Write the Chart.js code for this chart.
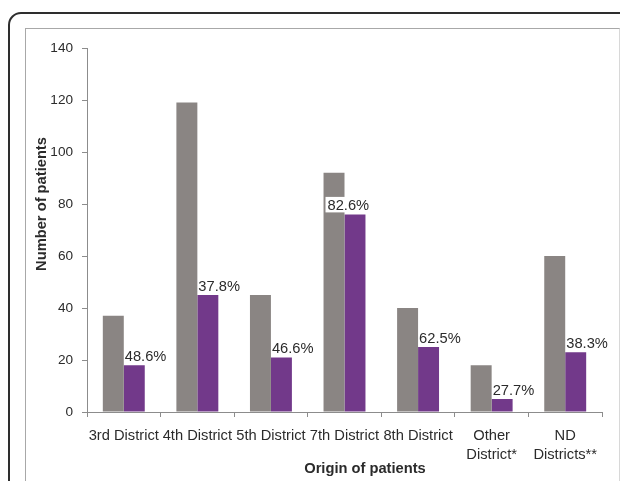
<!DOCTYPE html>
<html>
<head>
<meta charset="utf-8">
<script src="https://cdn.jsdelivr.net/npm/chart.js@4/dist/chart.umd.min.js"></script>
<style>
  html, body { margin: 0; padding: 0; background: #ffffff; overflow: hidden; width: 620px; height: 481px; }
  #outer { position: absolute; left: 7.5px; top: 12px; width: 700px; height: 600px; border: 2.5px solid #2e2e2e; border-radius: 13px; box-sizing: border-box; }
  #inner { position: absolute; left: 24.5px; top: 27.5px; width: 595px; height: 600px; border: 1.5px solid #a8a8a8; border-right-color: #d8d8d8; box-sizing: border-box; }
  #c { position: absolute; left: 0; top: 0; }
</style>
</head>
<body>
<div id="outer"></div>
<div id="inner"></div>
<canvas id="c" width="620" height="481"></canvas>
<script>
const categories = ["3rd District", "4th District", "5th District", "7th District", "8th District", ["Other", "District*"], ["ND", "Districts**"]];
const totalPatients = [37, 119, 45, 92, 40, 18, 60];
const subsetPatients = [18, 45, 21, 76, 25, 5, 23];
const subsetPercent = [48.6, 37.8, 46.6, 82.6, 62.5, 27.7, 38.3];
const yTicks = [0, 20, 40, 60, 80, 100, 120, 140];
const xTitle = "Origin of patients";
const yTitle = "Number of patients";

const FONT = "'Liberation Sans', Arial, sans-serif";
const FS = 14.7;
const TEXT = "#2b2b2b";

const labelPlugin = {
  id: 'pctLabels',
  afterDatasetsDraw(chart) {
    const ctx = chart.ctx;
    const meta = chart.getDatasetMeta(1);
    ctx.save();
    ctx.font = FS + "px " + FONT;
    ctx.textAlign = 'left';
    ctx.textBaseline = 'alphabetic';
    const shift = {3: -18};
    meta.data.forEach((el, i) => {
      const txt = subsetPercent[i].toFixed(1) + "%";
      const left = el.x - el.width / 2 + 1 + (shift[i] || 0);
      const base = el.y - 4.5;
      if (shift[i]) {
        const w = ctx.measureText(txt).width;
        ctx.fillStyle = '#ffffff';
        ctx.fillRect(left - 2, base - 13, w + 4, 15.5);
      }
      ctx.fillStyle = TEXT;
      ctx.fillText(txt, left, base);
    });
    ctx.restore();
  }
};

const titlePlugin = {
  id: 'axisTitles',
  afterDraw(chart) {
    const ctx = chart.ctx;
    ctx.save();
    ctx.font = "bold " + FS + "px " + FONT;
    ctx.fillStyle = TEXT;
    ctx.textAlign = 'center';
    ctx.textBaseline = 'middle';
    ctx.fillText(xTitle, 365, 469);
    ctx.translate(42, 204);
    ctx.rotate(-Math.PI / 2);
    ctx.fillText(yTitle, 0, 0);
    ctx.restore();
  }
};

new Chart(document.getElementById('c'), {
  type: 'bar',
  data: {
    labels: categories,
    datasets: [
      { data: totalPatients, backgroundColor: '#8a8583', borderWidth: 0, categoryPercentage: 0.57, barPercentage: 1 },
      { data: subsetPatients, backgroundColor: '#72398a', borderWidth: 0, categoryPercentage: 0.57, barPercentage: 1 }
    ]
  },
  options: {
    responsive: false,
    animation: false,
    devicePixelRatio: 1,
    layout: { padding: { left: 0, top: 48, right: 18, bottom: 0 } },
    plugins: { legend: { display: false }, tooltip: { enabled: false } },
    scales: {
      y: {
        min: 0, max: 140,
        afterBuildTicks(scale) { scale.ticks = yTicks.map(v => ({ value: v })); },
        afterFit(scale) { scale.width = 87; },
        ticks: { font: { family: FONT, size: 13.6 }, color: TEXT, padding: 9 },
        grid: { display: true, drawOnChartArea: false, drawTicks: true, tickLength: 5, color: '#8c8c8c' },
        border: { display: true, color: '#8c8c8c', width: 1 }
      },
      x: {
        afterFit(scale) { scale.height = 69; },
        ticks: { font: { family: FONT, size: FS, lineHeight: 1.3 }, color: TEXT, padding: 9, maxRotation: 0, minRotation: 0, autoSkip: false },
        grid: { display: true, offset: true, drawOnChartArea: false, drawTicks: true, tickLength: 5, color: '#8c8c8c' },
        border: { display: true, color: '#8c8c8c', width: 1 }
      }
    }
  },
  plugins: [labelPlugin, titlePlugin]
});
</script>
</body>
</html>
